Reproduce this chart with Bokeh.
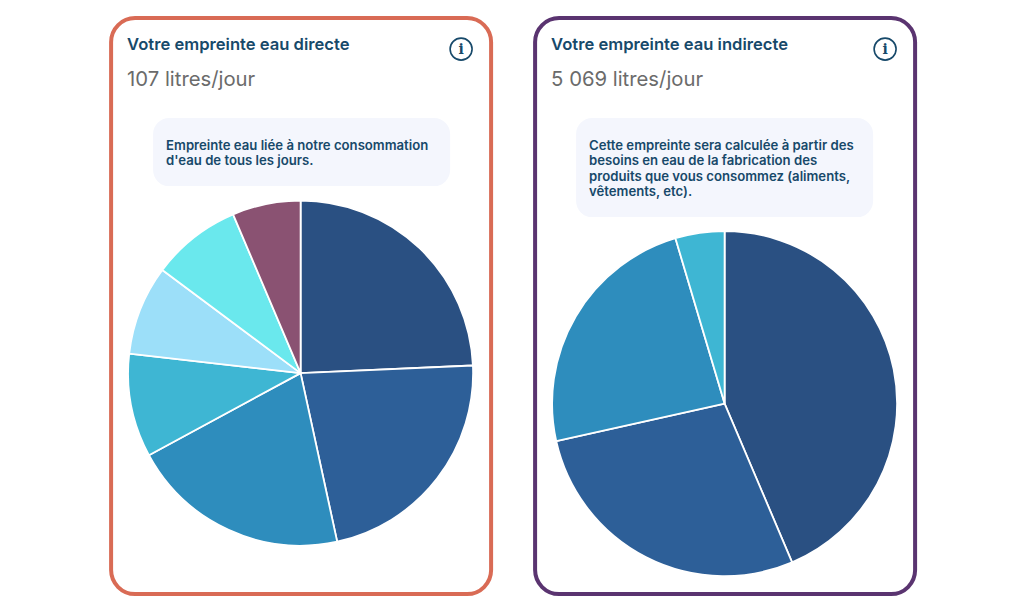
from math import pi
from bokeh.plotting import figure
from bokeh.core.properties import value
from bokeh.embed import file_html
from bokeh.resources import INLINE

direct_values = [24.3, 22.3, 20.5, 9.7, 8.4, 8.4, 6.4]
direct_colors = ["#2a5082", "#2d5f98", "#2e8dbd", "#3eb6d3", "#9cdff9", "#6ae8ed", "#8a5272"]
indirect_values = [43.6, 27.9, 23.9, 4.6]
indirect_colors = ["#2a5082", "#2d5f98", "#2e8dbd", "#3eb6d3"]

FONT = "Inter SemiBold"
INK = "#17496a"
H = 612

p = figure(width=1008, height=600, x_range=(0.4, 1008.4), y_range=(11.6, 611.6),
           output_backend="svg", toolbar_location=None, min_border=0)
p.axis.visible = False
p.grid.visible = False
p.outline_line_color = None


def rbox(l, t, r, b, radius, fill, line=None, lw=0):
    p.quad(left=[l], right=[r], top=[H - t], bottom=[H - b], border_radius=radius,
           fill_color=fill, line_color=line, line_width=lw)


def txt(x, y, s, size, color, style="normal", align="left", font=FONT):
    p.text(x=[x], y=[H - y], text=[s], text_font=value(font), text_font_size=f"{size}px",
           text_font_style=style, text_color=color, text_align=align, text_baseline="middle")


def pie(cx, cy, r, vals, colors):
    total = sum(vals)
    a = pi / 2
    for v, c in zip(vals, colors):
        b = a - 2 * pi * v / total
        p.wedge(x=[cx], y=[H - cy], radius=r, start_angle=b, end_angle=a,
                fill_color=c, line_color="white", line_width=1.8)
        a = b


def card(x0, color, title, amount, bubble_l, bubble_b, lines, cy, vals, colors):
    rbox(x0, 18, x0 + 380, 594, 24, "white", color, 4)
    txt(x0 + 16, 44, title, 16.6, INK, "normal")
    txt(x0 + 16, 78, amount, 20.3, "#6b6b6b", "normal", "left", "Inter")
    rbox(bubble_l, 118, bubble_l + 297, bubble_b, 16, "#f4f6fd")
    for i, s in enumerate(lines):
        txt(bubble_l + 13, 144.5 + i * 15.6, s, 13.15, INK, "normal")
    p.scatter(x=[x0 + 350], y=[H - 49], size=22, marker="circle", fill_color="white",
              line_color=INK, line_width=1.6)
    txt(x0 + 350, 49, "i", 14, INK, "bold", "center", "DejaVu Serif")
    pie(x0 + 189.5, cy, 172.5, vals, colors)


card(111, "#d96b55", "Votre empreinte eau directe", "107 litres/jour", 153, 186,
     ["Empreinte eau liée à notre consommation", "d'eau de tous les jours."],
     373, direct_values, direct_colors)
card(535, "#5a3470", "Votre empreinte eau indirecte", "5 069 litres/jour", 576, 217,
     ["Cette empreinte sera calculée à partir des", "besoins en eau de la fabrication des",
      "produits que vous consommez (aliments,", "vêtements, etc)."],
     403.5, indirect_values, indirect_colors)

open("out.html", "w").write(file_html(p, INLINE))
